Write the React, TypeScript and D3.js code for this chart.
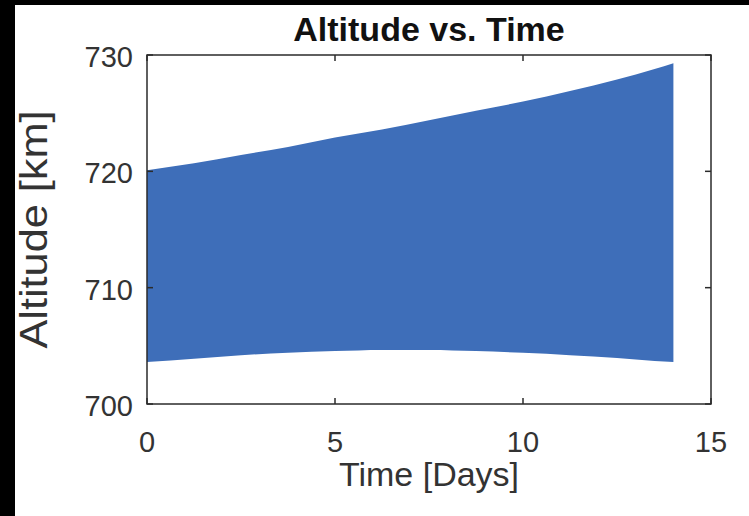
import React from "react";
import * as d3 from "d3";

const days = [0, 1.25, 2.5, 3.75, 5, 6.25, 7.5, 8.75, 10, 11.25, 12.5, 13.5, 14];
const upper = [720.1, 720.7, 721.4, 722.1, 722.9, 723.6, 724.4, 725.2, 726.0, 726.9, 727.9, 728.8, 729.3];
const lower = [703.6, 703.9, 704.2, 704.4, 704.55, 704.65, 704.65, 704.55, 704.4, 704.2, 703.95, 703.7, 703.6];
const xTicks = [0, 5, 10, 15];
const yTicks = [700, 710, 720, 730];

const W = 749;
const H = 516;
const M = { left: 147, right: 711, top: 55, bottom: 404 };

export default function App() {
  const x = d3.scaleLinear().domain([0, 15]).range([M.left, M.right]);
  const y = d3.scaleLinear().domain([700, 730]).range([M.bottom, M.top]);
  const area = d3
    .area<number>()
    .x((_, i) => x(days[i]))
    .y0((_, i) => y(lower[i]))
    .y1((_, i) => y(upper[i]))
    .curve(d3.curveMonotoneX);
  const axisColor = "#2b2b2b";
  const textColor = "#333333";
  const font = "'Liberation Sans', Arial, Helvetica, sans-serif";
  const tl = 6;
  return (
    <svg
      width={W}
      height={H}
      style={{ position: "absolute", left: 0, top: 0, background: "#fff" }}
      fontFamily={font}
    >
      <rect x={0} y={0} width={W} height={H} fill="#fff" />
      <rect x={0} y={0} width={15} height={H} fill="#000" />
      <rect x={0} y={0} width={W} height={5} fill="#000" />
      <path d={area(days) || ""} fill="#3E6EB9" />
      <rect
        x={M.left}
        y={M.top}
        width={M.right - M.left}
        height={M.bottom - M.top}
        fill="none"
        stroke={axisColor}
        strokeWidth={1.5}
      />
      {xTicks.map((t) => (
        <g key={"x" + t}>
          <line x1={x(t)} x2={x(t)} y1={M.bottom} y2={M.bottom - tl} stroke={axisColor} strokeWidth={1.5} />
          <line x1={x(t)} x2={x(t)} y1={M.top} y2={M.top + tl} stroke={axisColor} strokeWidth={1.5} />
          <text x={x(t)} y={M.bottom + 48} textAnchor="middle" fontSize={29} fill={textColor}>
            {t}
          </text>
        </g>
      ))}
      {yTicks.map((t) => (
        <g key={"y" + t}>
          <line x1={M.left} x2={M.left + tl} y1={y(t)} y2={y(t)} stroke={axisColor} strokeWidth={1.5} />
          <line x1={M.right} x2={M.right - tl} y1={y(t)} y2={y(t)} stroke={axisColor} strokeWidth={1.5} />
          <text x={M.left - 14} y={y(t) + 12} textAnchor="end" fontSize={29} fill={textColor}>
            {t}
          </text>
        </g>
      ))}
      <text x={(M.left + M.right) / 2} y={41} textAnchor="middle" fontSize={34} fontWeight="bold" fill="#111">
        Altitude vs. Time
      </text>
      <text x={(M.left + M.right) / 2} y={486} textAnchor="middle" fontSize={34} fill={textColor}>
        Time [Days]
      </text>
      <text
        transform={`translate(47, ${(M.top + M.bottom) / 2}) rotate(-90)`}
        textAnchor="middle"
        fontSize={38}
        textLength={238}
        lengthAdjust="spacingAndGlyphs"
        fill={textColor}
      >
        Altitude [km]
      </text>
    </svg>
  );
}
